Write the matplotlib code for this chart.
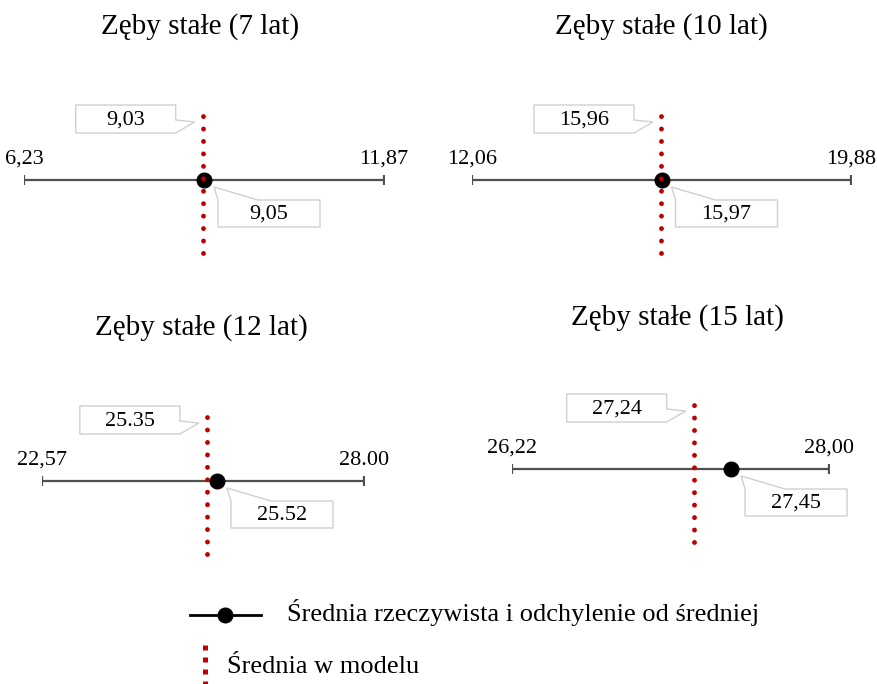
import matplotlib
matplotlib.use("Agg")
import matplotlib.pyplot as plt
import matplotlib.transforms as mtransforms
from matplotlib.patches import Polygon
from matplotlib.lines import Line2D

plt.rcParams['font.family'] = ['Liberation Serif', 'DejaVu Serif']

# ---- data ----
titles = ["Zęby stałe (7 lat)", "Zęby stałe (10 lat)", "Zęby stałe (12 lat)", "Zęby stałe (15 lat)"]
mins = [6.23, 12.06, 22.57, 26.22]
maxs = [11.87, 19.88, 28.00, 28.00]
means = [9.05, 15.97, 25.52, 27.45]
model = [9.03, 15.96, 25.35, 27.24]
min_labels = ["6,23", "12,06", "22,57", "26,22"]
max_labels = ["11,87", "19,88", "28.00", "28,00"]
mean_labels = ["9,05", "15,97", "25.52", "27,45"]
model_labels = ["9,03", "15,96", "25.35", "27,24"]
legend_labels = ["Średnia rzeczywista i odchylenie od średniej", "Średnia w modelu"]

# ---- layout (pixels) ----
W, H = 877, 684
panels = [  # x0, x1, yline, title_x, title_y
    (24, 384, 180, 200, 27),
    (472, 851, 180, 661, 27),
    (42, 364, 481, 201, 328),
    (512, 829, 469, 677, 318),
]
RED = "#C00000"
GRAY = "#505050"
BOXEDGE = "#D0D0D0"
FS = 16

fig = plt.figure(figsize=(W / 100, H / 100), dpi=100)
HALF = 90


def off_trans(ax, x, y):
    # pixel offsets (y positive downward) around a data point
    return mtransforms.Affine2D().scale(1, -1) + mtransforms.ScaledTranslation(x, y, ax.transData)


for i, (x0, x1, yl, tx, ty) in enumerate(panels):
    ax = fig.add_axes([x0 / W, 1 - (yl + HALF) / H, (x1 - x0) / W, 2 * HALF / H])
    ax.set_xlim(mins[i], maxs[i])
    ax.set_ylim(-HALF, HALF)
    ax.axis('off')

    # range line with caps
    ax.errorbar([means[i]], [0], xerr=[[means[i] - mins[i]], [maxs[i] - means[i]]],
                fmt='none', ecolor=GRAY, elinewidth=1.6, capsize=3.6, capthick=1.6, zorder=2)
    ax.plot([means[i]], [0], 'o', color='black', markersize=10.5, zorder=3, clip_on=False)

    # model mean dotted line
    ax.plot([model[i], model[i]], [-73, 68], color=RED, linewidth=3.5,
            dashes=(0.01, 2.55), dash_capstyle='round', zorder=4, clip_on=False)

    # end labels
    t = off_trans(ax, mins[i], 0)
    ax.text(0, -16, min_labels[i], transform=t, ha='center', va='baseline', fontsize=FS,
            clip_on=False)
    t = off_trans(ax, maxs[i], 0)
    ax.text(0, -16, max_labels[i], transform=t, ha='center', va='baseline', fontsize=FS,
            clip_on=False)

    # model callout (box to upper-left of dotted line)
    t = off_trans(ax, model[i], 0)
    L, R, T, B = -127, -27, -75, -47
    tip = (-8, -58)
    poly = Polygon([(L, T), (R, T), (R, -60), tip, (R, B), (L, B)], closed=True,
                   facecolor='white', edgecolor=BOXEDGE, linewidth=1, transform=t, zorder=5,
                   clip_on=False)
    ax.add_patch(poly)
    ax.text((L + R) / 2, (T + B) / 2 + 1, model_labels[i], transform=t, ha='center', va='center',
            fontsize=FS, zorder=6, clip_on=False)

    # actual-mean callout (box to lower-right of dot)
    t = off_trans(ax, means[i], 0)
    L, R, T, B = 14, 116, 20, 47
    tip = (10, 7)
    poly = Polygon([(L, T), tip, (L + 40, T), (R, T), (R, B), (L, B)], closed=True,
                   facecolor='white', edgecolor=BOXEDGE, linewidth=1, transform=t, zorder=5,
                   clip_on=False)
    ax.add_patch(poly)
    ax.text((L + R) / 2, (T + B) / 2 + 1, mean_labels[i], transform=t, ha='center', va='center',
            fontsize=FS, zorder=6, clip_on=False)

    # title
    fig.text(tx / W, 1 - ty / H, titles[i], ha='center', va='center', fontsize=21)

# ---- legend (figure pixel coordinates) ----
pt = mtransforms.Affine2D().scale(1, -1).translate(0, H)
fig.add_artist(Line2D([190, 261], [615, 615], color='black', linewidth=2, transform=pt))
fig.add_artist(Line2D([225], [615], marker='o', color='black', markersize=10.5, transform=pt))
fig.text(287, 613, legend_labels[0], transform=pt, ha='left', va='center', fontsize=19)
fig.add_artist(Line2D([205, 205], [645, 690], color=RED, linewidth=3.6,
                      dashes=(1.0, 1.4), dash_capstyle='butt', transform=pt))
fig.text(227, 667, legend_labels[1], transform=pt, ha='left', va='center', fontsize=19)

fig.savefig("out.png", dpi=100)
